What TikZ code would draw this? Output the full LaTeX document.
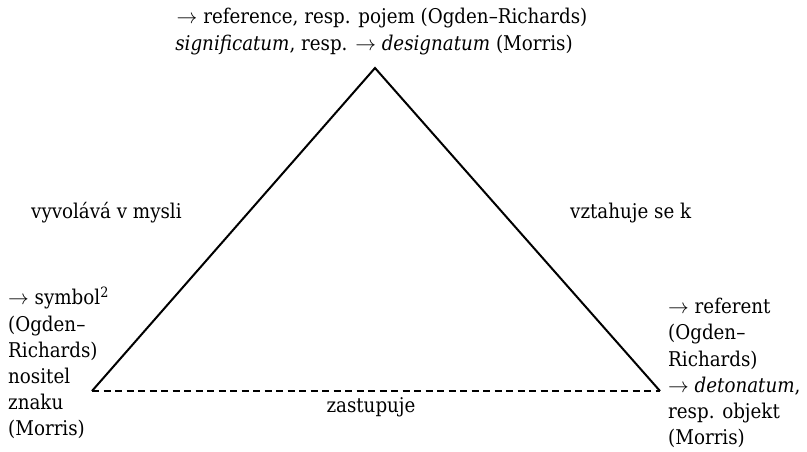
\documentclass[tikz,border=0pt]{standalone}
\usepackage{fontspec}
\setmainfont{DejaVu Serif Condensed}
\usepackage{amsmath}
\usetikzlibrary{positioning}

\begin{document}
\begin{tikzpicture}[x=1pt,y=-1pt]
    \tikzstyle{side} = [draw, line width=2pt, line join=miter]
    \tikzstyle{stand} = [draw, line width=2.2pt, dash pattern=on 7pt off 4.5pt]
    \tikzstyle{label} = [inner sep=0pt, font=\fontsize{20.3}{26.2}\selectfont]
    \tikzstyle{block} = [label, align=left, anchor=west]

    \useasboundingbox (0,0) rectangle (807,452);

    \coordinate (apex) at (375,68);
    \coordinate (symb) at (92,391);
    \coordinate (refr) at (660,391);
    %
    \node [label] (top) at (382,18)
        {$\rightarrow$ reference, resp. pojem (Ogden--Richards)};
    \node [label] (morris) at (374,45)
        {\textit{significatum}, resp. $\rightarrow$ \textit{designatum} (Morris)};
    \node [label, anchor=west] (evoke) at (31,213) {vyvolává v mysli};
    \node [label, anchor=west] (relate) at (570,213) {vztahuje se k};
    %
    \node [block] (left) at (8,363)
        {$\rightarrow$ symbol\textsuperscript{2}\\(Ogden--\\Richards)\\nositel\\znaku\\(Morris)};
    \node [block] (right) at (668,373)
        {$\rightarrow$ referent\\(Ogden--\\Richards)\\$\rightarrow$ \textit{detonatum},\\resp. objekt\\(Morris)};
    \node [label] (stands) at (371,407) {zastupuje};
    %
    \path [side] (symb) -- (apex) -- (refr);
    \path [stand] (symb) -- (refr);
\end{tikzpicture}
\end{document}
